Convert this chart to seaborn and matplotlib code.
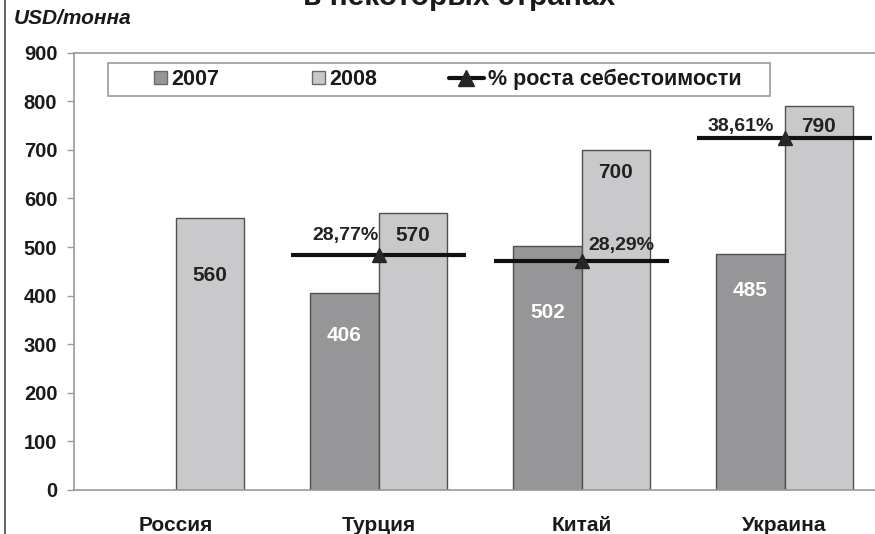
import matplotlib
matplotlib.use("Agg")
import matplotlib.pyplot as plt
import seaborn as sns
import pandas as pd
import numpy as np
from matplotlib.lines import Line2D
from matplotlib.patches import Patch, Rectangle
from matplotlib.legend_handler import HandlerPatch

# ---- data ----
countries = ["Россия", "Турция", "Китай", "Украина"]
cost_2007 = [np.nan, 406, 502, 485]
cost_2008 = [560, 570, 700, 790]
growth_pct = [np.nan, 28.77, 28.29, 38.61]
growth_labels = ["", "28,77%", "28,29%", "38,61%"]
years = ["2007", "2008"]
y_ticks = [0, 100, 200, 300, 400, 500, 600, 700, 800, 900]

# ---- layout (label positions in data units) ----
lab2008_y = [442, 524, 653, 748]
lab2007_y = [None, 318, 365, 411]
pct_lab = [None, (0.0, 524, "right"), (0.035, 503, "left"), (-0.054, 748, "right")]

sns.set_theme(style="white")
plt.rcParams["font.family"] = ["Liberation Sans", "DejaVu Sans"]

rows = []
for i, c in enumerate(countries):
    if not np.isnan(cost_2007[i]):
        rows.append((c, years[0], cost_2007[i]))
    rows.append((c, years[1], cost_2008[i]))
df = pd.DataFrame(rows, columns=["country", "year", "value"])

C07 = "#969698"
C08 = "#c9c9cb"
EDGE = "#505050"
AX = "#9a9a9a"
TXT = "#1a1a1a"

fig = plt.figure(figsize=(8.75, 5.34), dpi=100)
ax = fig.add_axes([74 / 875, 44.2 / 534, 812 / 875, 437 / 534])

sns.barplot(data=df, x="country", y="value", hue="year", order=countries,
            hue_order=years, palette=[C07, C08], width=0.67,
            edgecolor=EDGE, linewidth=1.0, saturation=1, ax=ax, legend=False)

ax.set_xlim(-0.5, 3.5)
ax.set_ylim(0, 900)
ax.set_yticks(y_ticks)
ax.set_yticklabels([str(t) for t in y_ticks], fontsize=14.5, fontweight="bold", color=TXT)
ax.set_xlabel("")
ax.set_ylabel("")
ax.set_xticks(range(len(countries)))
ax.set_xticklabels(countries, fontsize=15, fontweight="bold", color=TXT)
ax.set_xticks([0.5, 1.5, 2.5], minor=True)
ax.tick_params(axis="x", which="major", length=0, pad=19)
ax.tick_params(axis="x", which="minor", length=7, color=AX, width=1, direction="out")
ax.tick_params(axis="y", length=5, color=AX, width=1, direction="out", pad=7)
for s in ["left", "bottom", "top", "right"]:
    ax.spines[s].set_visible(True)
    ax.spines[s].set_color(AX)
    ax.spines[s].set_linewidth(1.2)

# value labels
for i in range(len(countries)):
    ax.text(i + 0.1675, lab2008_y[i], f"{cost_2008[i]:.0f}", ha="center", va="center",
            fontsize=15, fontweight="bold", color="#222222", zorder=6)
    if lab2007_y[i] is not None:
        ax.text(i - 0.1675, lab2007_y[i], f"{cost_2007[i]:.0f}", ha="center", va="center",
                fontsize=15, fontweight="bold", color="white", zorder=6)

# growth series on secondary axis
ax2 = ax.twinx()
ax2.set_ylim(9.0, 45.8)
ax2.axis("off")
idx = np.arange(len(countries))
ax2.errorbar(idx, growth_pct, xerr=0.43, fmt="^", color="#262626", ecolor="#111111",
             elinewidth=3, capsize=0, markersize=10, zorder=5)
for i in range(len(countries)):
    if pct_lab[i] is None:
        continue
    dx, yy, ha = pct_lab[i]
    ax.text(i + dx, yy, growth_labels[i], ha=ha, va="center", fontsize=14,
            fontweight="bold", color="#222222", zorder=6)


class SquareRight(HandlerPatch):
    def create_artists(self, legend, orig_handle, xdescent, ydescent, width, height, fontsize, trans):
        s = 13 * 72 / 100
        p = Rectangle((-xdescent + width - s, -ydescent + (height - s) / 2), s, s,
                      facecolor=orig_handle.get_facecolor(), edgecolor=orig_handle.get_edgecolor(),
                      linewidth=1, transform=trans)
        return [p]


# legend frame (Excel-like box)
fx0, fx1 = (108 - 74) / 812, (770 - 74) / 812
fy0, fy1 = (489.8 - 96) / 437, (489.8 - 63) / 437
ax.add_patch(Rectangle((fx0, fy0), fx1 - fx0, fy1 - fy0, transform=ax.transAxes,
                       facecolor="white", edgecolor=AX, linewidth=1.2, zorder=7, clip_on=False))

handles = [Patch(facecolor=C07, edgecolor="#6a6a6a"),
           Patch(facecolor=C08, edgecolor="#6a6a6a"),
           Line2D([], [], color="#111111", lw=3, marker="^", markersize=11,
                  markerfacecolor="#262626", markeredgecolor="#262626")]
labels = ["2007", "2008", "% роста себестоимости"]
leg = ax.legend(handles, labels, loc="center left",
                bbox_to_anchor=((131 - 74) / 812, (fy0 + fy1) / 2), ncol=3,
                frameon=False, borderpad=0, borderaxespad=0, handlelength=1.65,
                handletextpad=0.2, columnspacing=3.3,
                prop={"weight": "bold", "size": 15.5},
                handler_map={Patch: SquareRight()})
leg.set_zorder(8)
for t in leg.get_texts():
    t.set_color(TXT)

# title (cropped at top as in the source) and unit label
fig.text(0.525, 1 - 5 / 534, "в некоторых странах", ha="center", va="baseline",
         fontsize=21.5, fontweight="bold", color=TXT)
fig.text(14 / 875, 1 - 19 / 534, "USD/тонна", ha="left", va="center", fontsize=15,
         fontweight="bold", style="italic", color=TXT)
fig.add_artist(Line2D([4.5 / 875, 4.5 / 875], [0, 1], transform=fig.transFigure,
                      color="#555555", lw=1.3))

fig.savefig("out.png", dpi=100)
